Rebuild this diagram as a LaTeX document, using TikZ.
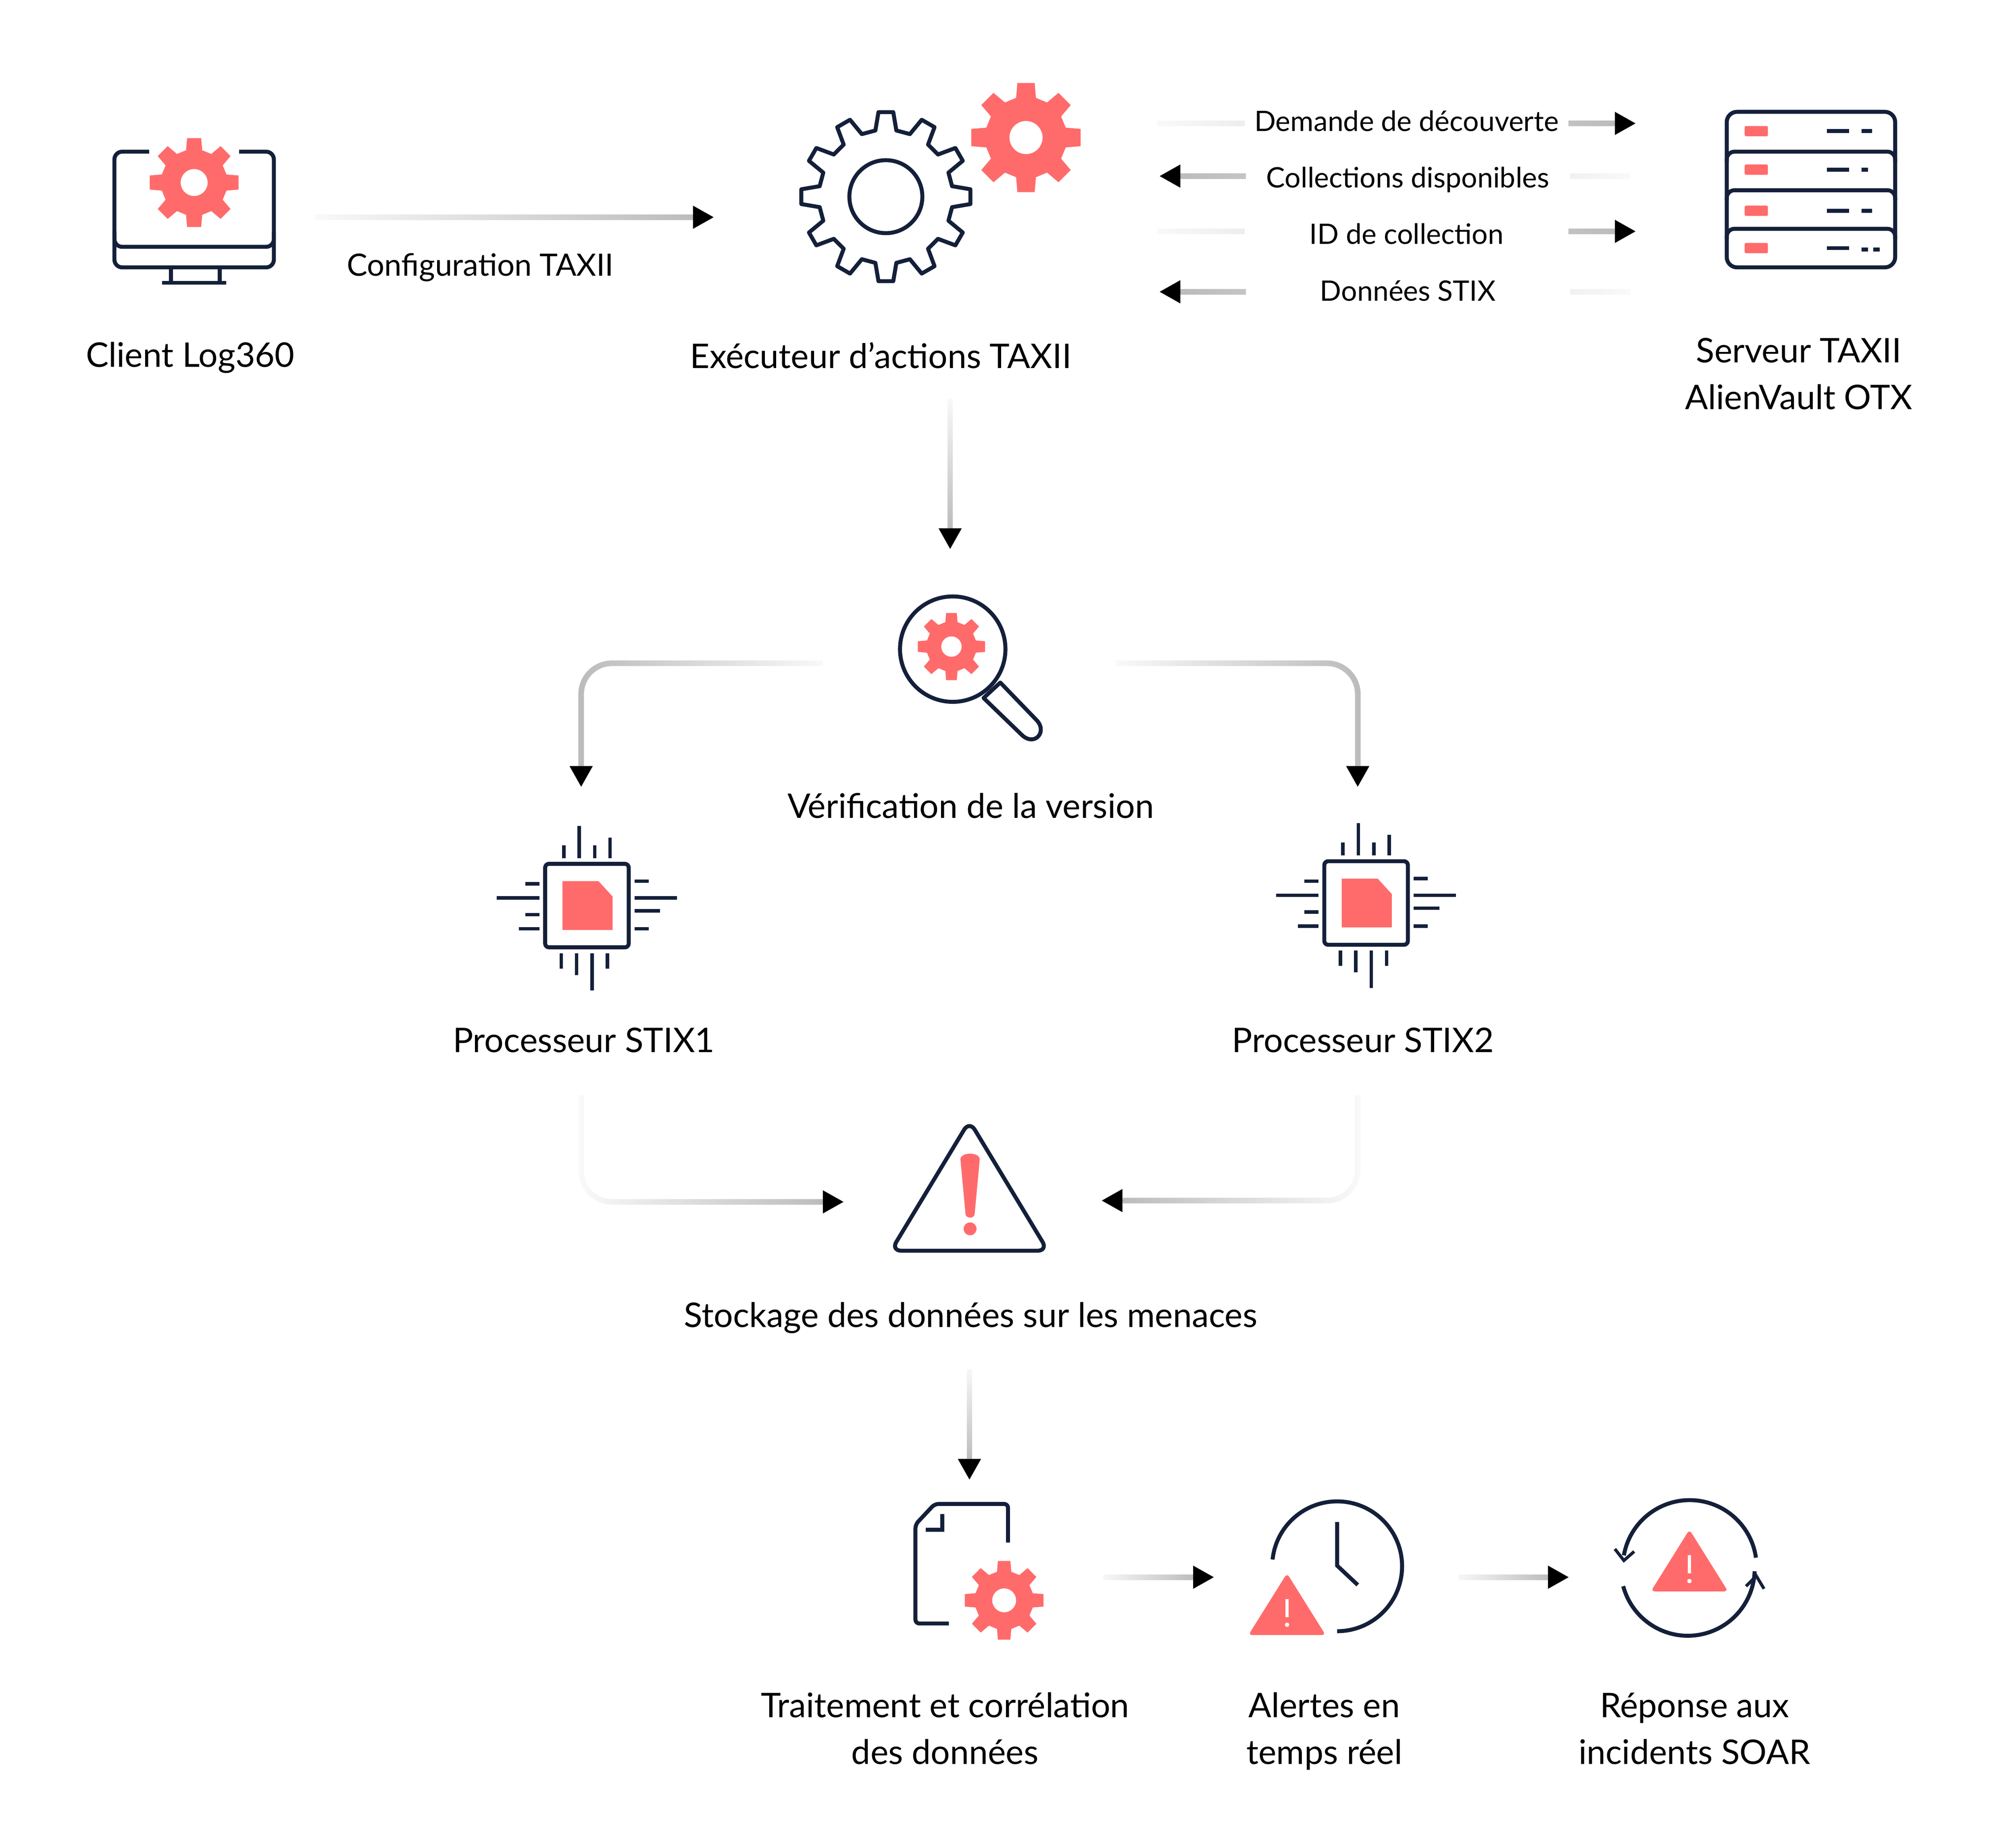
\documentclass[tikz,border=0pt]{standalone}
\usepackage{fontspec}
\setmainfont{Lato}
\usetikzlibrary{arrows.meta,fadings}

\definecolor{iconnavy}{HTML}{14203A}
\definecolor{iconred}{HTML}{FF6B6B}
\definecolor{linegray}{HTML}{BBBBBB}

\tikzfading[name=softwest, left color=transparent!92, right color=transparent!0]
\tikzfading[name=softeast, left color=transparent!0, right color=transparent!92]
\tikzfading[name=softnorth, top color=transparent!92, bottom color=transparent!0]

\tikzset{
  label/.style={font=\fontsize{26.4}{30}\selectfont, text=black, align=center, inner sep=0pt, text height=20pt, text depth=7pt, execute at begin node=\setlength{\baselineskip}{36.5pt}},
  smalllabel/.style={font=\fontsize{21.9}{26}\selectfont, text=black, fill=white, inner sep=0pt, text height=16pt, text depth=5pt, minimum width=252pt, minimum height=30pt},
  icon/.style={draw=iconnavy, line width=3.1pt},
  pin/.style={draw=iconnavy, line width=2.7pt},
  fadeR/.style={draw=linegray, line width=4.4pt, path fading=softwest},
  fadeL/.style={draw=linegray, line width=4.4pt, path fading=softeast},
  fadeD/.style={draw=linegray, line width=4pt, path fading=softnorth},
  tiphead/.style={draw=black, line width=0.1pt, -{Triangle[length=16pt,width=18pt]}},
  redgear/.pic={
    \fill[iconred, even odd rule] (-14:.74)
      \foreach \a in {0,45,...,315} {
        -- ({\a-14}:.74) -- ({\a-9}:1) -- ({\a+9}:1) -- ({\a+14}:.74)
      } -- cycle (0,0) circle (.3);
  },
  outlinegear/.pic={
    \draw[icon, line join=round] (-9:.79)
      \foreach \a in {0,30,...,330} {
        -- ({\a-9}:.79) -- ({\a-5}:1) -- ({\a+5}:1) -- ({\a+9}:.79)
      } -- cycle;
    \draw[icon] (0,0) circle (.43);
  },
  chipicon/.pic={
    \draw[icon, rounded corners=3pt] (-32.5,-32.5) rectangle (32.5,32.5);
    \fill[iconred] (-19,-19) -- (9,-19) -- (20,-7) -- (20,19) -- (-19,19) -- cycle;
    \foreach \x/\y in {-18/-47, -6/-62, 6/-47, 18/-53} \draw[pin] (\x,-37) -- (\x,\y);
    \foreach \x/\y in {-20/49, -8/54, 4/66, 16/49} \draw[pin] (\x,37) -- (\x,\y);
    \foreach \y/\x in {-17/-48, -6/-70, 7/-48, 18/-53} \draw[pin] (-37,\y) -- (\x,\y);
    \foreach \y/\x in {-19/48, -6/70, 4/57, 18/48} \draw[pin] (37,\y) -- (\x,\y);
  },
  redwarn/.pic={
    \fill[iconred, rounded corners=3pt] (0,-2) -- (30,46) -- (-30,46) -- cycle;
    \draw[white, line width=2.4pt] (0,18) -- (0,32);
    \fill[white] (0,38) circle (1.7);
  }
}

\begin{document}
\begin{tikzpicture}[x=1pt, y=-1pt]
  \useasboundingbox (0,0) rectangle (1568,1435.3);

  % connector ends
  \coordinate (cfg_a) at (245,169);
  \coordinate (cfg_b) at (539,169);
  \coordinate (cfg_c) at (555,169);
  \foreach \n/\y in {disc/96, ids/180} {
    \coordinate (\n_a) at (900,\y);
    \coordinate (\n_b) at (1256,\y);
    \coordinate (\n_c) at (1272,\y);
  }
  \foreach \n/\y in {coll/137, stix/227} {
    \coordinate (\n_a) at (1268,\y);
    \coordinate (\n_b) at (918,\y);
    \coordinate (\n_c) at (902,\y);
  }
  \coordinate (exec_a) at (739,310);
  \coordinate (exec_b) at (739,411);
  \coordinate (exec_c) at (739,427);
  \coordinate (verl_a) at (640,516);
  \coordinate (verl_b) at (452,596);
  \coordinate (verl_c) at (452,612);
  \coordinate (verr_a) at (868,516);
  \coordinate (verr_b) at (1056,596);
  \coordinate (verr_c) at (1056,612);
  \coordinate (lowl_a) at (452,852);
  \coordinate (lowl_b) at (640,935);
  \coordinate (lowl_c) at (656,935);
  \coordinate (lowr_a) at (1056,852);
  \coordinate (lowr_b) at (873,934);
  \coordinate (lowr_c) at (857,934);
  \coordinate (store_a) at (754,1065);
  \coordinate (store_b) at (754,1135);
  \coordinate (store_c) at (754,1151);
  \coordinate (proc_a) at (858,1227);
  \coordinate (proc_b) at (928,1227);
  \coordinate (proc_c) at (944,1227);
  \coordinate (alert_a) at (1134,1227);
  \coordinate (alert_b) at (1204,1227);
  \coordinate (alert_c) at (1220,1227);

  % arrows
  \path[fadeR] (cfg_a) -- (cfg_b) ++(0,1);
  \foreach \n in {disc, ids} \path[fadeR] (\n_a) -- (\n_b) ++(0,1);
  \foreach \n in {coll, stix} \path[fadeL] (\n_b) -- (\n_a) ++(0,1);
  \path[fadeD] (exec_a) -- (exec_b) ++(1,0);
  \path[fadeD] (store_a) -- (store_b) ++(1,0);
  \path[fadeR] (proc_a) -- (proc_b) ++(0,1);
  \path[fadeR] (alert_a) -- (alert_b) ++(0,1);
  \path[fadeL, rounded corners=24pt] (verl_a) -| (verl_b);
  \path[fadeR, rounded corners=24pt] (verr_a) -| (verr_b);
  \path[fadeR, rounded corners=24pt] (lowl_a) |- (lowl_b);
  \path[fadeL, rounded corners=24pt] (lowr_a) |- (lowr_b);
  \foreach \n in {cfg, disc, ids, coll, stix, exec, verl, verr, lowl, lowr, store, proc, alert}
    \draw[tiphead] (\n_b) -- (\n_c);

  % labels
  \node[label] (client) at (148,279) {Client Log360};
  \node[label, font=\fontsize{23.9}{28}\selectfont] (config) at (373.5,208) {Configuration TAXII};
  \node[label] (executor) at (685,280) {Exécuteur d’actions TAXII};
  \node[smalllabel] (discovery) at (1094,96.5) {Demande de découverte};
  \node[smalllabel] (collections) at (1095,140.5) {Collections disponibles};
  \node[smalllabel] (colid) at (1094,184.5) {ID de collection};
  \node[smalllabel] (stixdata) at (1095,228.5) {Données STIX};
  \node[label] (server) at (1399,312) {Serveur TAXII\\AlienVault OTX};
  \node[label] (version) at (755,630) {Vérification de la version};
  \node[label] (stixa) at (454,812) {Processeur STIX1};
  \node[label] (stixb) at (1060,812) {Processeur STIX2};
  \node[label] (storage) at (755,1026) {Stockage des données sur les menaces};
  \node[label] (process) at (735,1366) {Traitement et corrélation\\des données};
  \node[label] (alerts) at (1030,1366) {Alertes en\\temps réel};
  \node[label] (soar) at (1318,1366) {Réponse aux\\incidents SOAR};

  % monitor
  \draw[icon, rounded corners=6pt] (116,118) -- (89,118) -- (89,208) -- (213,208) -- (213,118) -- (186,118);
  \draw[icon, rounded corners=6pt] (89,180) -- (89,192) -- (213,192) -- (213,180);
  \draw[icon] (133,208) -- (133,220) (171,208) -- (171,220) (126,220) -- (176,220);
  \pic[scale=35] at (151,142) {redgear};

  % gears
  \pic[scale=66] at (689,153) {outlinegear};
  \pic[scale=43] at (798,107) {redgear};

  % server
  \draw[icon, rounded corners=8pt] (1343,87) rectangle (1474,208);
  \foreach \y in {118, 148, 178} {
    \draw[icon, rounded corners=6pt] (1343,\y+8) -- (1343,\y) -- (1474,\y) -- (1474,\y+8);
  }
  \foreach \y in {102, 132, 164, 193} {
    \fill[iconred, rounded corners=1pt] (1357,\y-4) rectangle (1375,\y+4);
    \draw[icon] (1421,\y) -- (1438,\y);
  }
  \draw[icon] (1448,102) -- (1456,102) (1448,132) -- (1453,132) (1448,164) -- (1456,164);
  \draw[icon] (1448,194) -- (1453,194) (1457,194) -- (1462,194);

  % magnifier
  \draw[icon] (741,505) circle (41);
  \pic[scale=26.5] at (740,503) {redgear};
  \draw[icon, line join=round] (778,531) -- (806,560) .. controls (815,569) and (805,581) .. (795,572) -- (765,543) -- cycle;

  % chips
  \pic at (456.5,704.5) {chipicon};
  \pic at (1062.5,702.5) {chipicon};

  % warning
  \draw[icon, rounded corners=8pt] (754,872) -- (815,973) -- (693,973) -- cycle;
  \fill[iconred] (747,902) .. controls (747,896) and (762,896) .. (762,902) -- (758,945) .. controls (757,948) and (752,948) .. (751,945) -- cycle;
  \fill[iconred] (754.5,956) circle (5);

  % document
  \draw[icon, rounded corners=3pt] (784,1200) -- (784,1170) -- (727,1170) -- (712,1186) -- (712,1263) -- (738,1263);
  \draw[icon] (733,1178) -- (733,1190) -- (720,1190);
  \pic[scale=31] at (781,1245) {redgear};

  % clock
  \draw[icon] (1040,1269) arc (90:-174:50.5);
  \draw[icon] (1040,1184) -- (1040,1218) -- (1056,1233);
  \pic at (1001,1226) {redwarn};

  % soar
  \draw[icon] (1263,1210) arc (-170:-8:52);
  \draw[icon] (1262.5,1234) arc (165:2:52);
  \draw[icon, line width=2.4pt] (1256,1205) -- (1263,1214) -- (1271,1207);
  \draw[icon, line width=2.4pt] (1358,1234) -- (1366,1226) -- (1372,1236);
  \pic at (1314,1192) {redwarn};
\end{tikzpicture}
\end{document}
